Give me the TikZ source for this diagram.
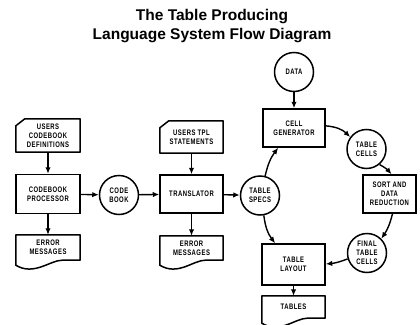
\documentclass[tikz,border=0pt]{standalone}
\usepackage{fontspec}
\setmainfont{Liberation Sans}
\newfontfamily\lblfont[FakeStretch=0.74,LetterSpace=6]{Liberation Sans}
\usetikzlibrary{arrows.meta}
\newcommand{\drawcard}[1]{%
  \draw[outline] (#1.south west) -- (#1.south east) -- (#1.north east)
    -- ([xshift=9pt]#1.north west) -- ([yshift=-7pt]#1.north west) -- cycle;}
\newcommand{\drawdoc}[1]{%
  \draw[outline] ([xshift=-18pt]#1.south east) -- (#1.south east) -- (#1.north east)
    -- (#1.north west) -- ([yshift=-5pt]#1.south west)
    .. controls ([xshift=18pt,yshift=-16pt]#1.south west) and ([xshift=-30pt]#1.south east)
    .. ([xshift=-18pt]#1.south east);}
\begin{document}
\begin{tikzpicture}[x=1pt,y=1pt,
  outline/.style={line width=1.5pt, line join=round},
  lbl/.style={font=\lblfont\bfseries\fontsize{8}{9}\selectfont, align=center, inner sep=0pt},
  box/.style={lbl, draw, line width=1.5pt, minimum width=63pt, minimum height=38pt},
  blank/.style={lbl, minimum width=63pt},
  circ/.style={lbl, circle, draw, line width=1.5pt, minimum size=39pt},
  arr/.style={line width=1.4pt, -{Latex[length=6.5pt,width=5.5pt]}},
  ttl/.style={font=\bfseries\fontsize{15.5}{19}\selectfont, anchor=base, inner sep=0pt}]
\clip (0,0) rectangle (420,-324);
\node[ttl] (t1) at (212,-20) {The Table Producing};
\node[ttl] (t2) at (212,-39) {Language System Flow Diagram};
% left column
\node[blank, minimum width=64pt, minimum height=33pt] (card1) at (48,-135.5) {USERS\\CODEBOOK\\DEFINITIONS};
\node[box, minimum width=64pt, minimum height=39pt] (proc) at (48,-194) {CODEBOOK\\PROCESSOR};
\node[blank, minimum width=64pt, minimum height=25pt] (err1) at (48,-247.5) {ERROR\\MESSAGES};
\node[circ] (codebook) at (119,-195) {CODE\\BOOK};
% middle column
\node[blank, minimum height=32pt] (card2) at (191.5,-137) {USERS TPL\\STATEMENTS};
\node[box] (trans) at (191.5,-194) {TRANSLATOR};
\node[blank, minimum height=24pt] (err2) at (191.5,-248) {ERROR\\MESSAGES};
\node[circ] (specs) at (260,-195.5) {TABLE\\SPECS};
% right part
\node[circ] (data) at (294,-72) {DATA};
\node[box, minimum width=62pt] (cellgen) at (294,-128) {CELL\\GENERATOR};
\node[circ] (cells) at (366.5,-149) {TABLE\\CELLS};
\node[box, minimum width=53pt, minimum height=38pt] (sort) at (389.5,-194) {SORT AND\\DATA\\REDUCTION};
\node[circ] (final) at (367,-253) {FINAL\\TABLE\\CELLS};
\node[box, minimum height=41pt] (layout) at (293.5,-264.5) {TABLE\\LAYOUT};
\node[blank, minimum height=22pt] (tables) at (293.5,-307) {TABLES};
% outlines
\drawcard{card1}
\drawcard{card2}
\drawdoc{err1}
\drawdoc{err2}
\drawdoc{tables}
% connectors
\draw[arr] (card1) -- (proc);
\draw[arr] (proc) -- (err1);
\draw[arr] (proc) -- (codebook);
\draw[arr] (codebook) -- (trans);
\draw[arr] (card2) -- (trans);
\draw[arr] (trans) -- (err2);
\draw[arr] (trans) -- (specs);
\draw[arr] (data) -- (cellgen);
\draw[arr] (specs) to[bend left=12] (cellgen);
\draw[arr] (cellgen) to[bend left=20] (cells);
\draw[arr] (cells.-50) to[bend left=10] ([xshift=2pt]sort.north);
\draw[arr] ([xshift=3pt]sort.south) to[bend left=10] (final.45);
\draw[arr] (final) to[bend left=8] (layout);
\draw[arr] (specs) to[bend right=15] (layout);
\draw[arr] (layout) -- (tables);
\end{tikzpicture}
\end{document}
